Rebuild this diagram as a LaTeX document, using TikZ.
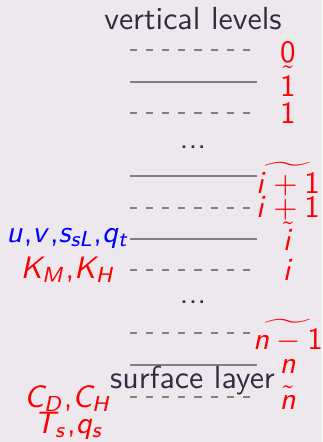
\documentclass[tikz,border=0pt]{standalone}
\usepackage{amsmath}
\usepackage{tikz}
\usepackage{xcolor}

% sans serif math as on the slide
\DeclareSymbolFont{sfup}{OT1}{cmss}{m}{n}
\DeclareSymbolFont{sfit}{OT1}{cmss}{m}{sl}
\DeclareMathSymbol{0}{\mathalpha}{sfup}{`0}
\DeclareMathSymbol{1}{\mathalpha}{sfup}{`1}
\DeclareMathSymbol{,}{\mathord}{sfup}{`,}
\DeclareMathSymbol{u}{\mathalpha}{sfit}{`u}
\DeclareMathSymbol{v}{\mathalpha}{sfit}{`v}
\DeclareMathSymbol{s}{\mathalpha}{sfit}{`s}
\DeclareMathSymbol{L}{\mathalpha}{sfit}{`L}
\DeclareMathSymbol{q}{\mathalpha}{sfit}{`q}
\DeclareMathSymbol{t}{\mathalpha}{sfit}{`t}
\DeclareMathSymbol{K}{\mathalpha}{sfit}{`K}
\DeclareMathSymbol{M}{\mathalpha}{sfit}{`M}
\DeclareMathSymbol{H}{\mathalpha}{sfit}{`H}
\DeclareMathSymbol{i}{\mathalpha}{sfit}{`i}
\DeclareMathSymbol{n}{\mathalpha}{sfit}{`n}
\DeclareMathSymbol{C}{\mathalpha}{sfit}{`C}
\DeclareMathSymbol{D}{\mathalpha}{sfit}{`D}
\DeclareMathSymbol{T}{\mathalpha}{sfit}{`T}

% tilde set a little higher
\newcommand{\hitilde}[2]{\tilde{\rule{0pt}{#1}#2}}

\definecolor{slidebg}{RGB}{237,231,238}
\definecolor{slidetext}{RGB}{46,46,64}
\definecolor{lvlgray}{RGB}{128,128,128}

\begin{document}
\begin{tikzpicture}[x=0.3226pt, y=-0.3226pt,
    every node/.style={font=\sffamily, text=slidetext, anchor=base, inner sep=0pt},
    txt/.style={font=\sffamily\fontsize{10.3}{12}\selectfont},
    full/.style={line width=0.9pt, draw=lvlgray},
    half/.style={full, dash pattern=on 2.3pt off 2.9pt},
    idx/.style={text=red},
    var/.style={text=blue}]
    \fill[slidebg] (0,0) rectangle (322,442);

    % full and half levels
    \foreach \y in {82,176,239,365}
        \draw[full] (130,\y) -- (257,\y);
    \foreach \y in {50,113,208,270,333,397}
        \draw[half] (130,\y) -- (250.5,\y);

    \node[txt] (title) at (193,29) {vertical levels};
    \node[txt] (dotsA) at (193,148) {...};
    \node[txt] (dotsB) at (193,303) {...};
    \node[txt] (sfc) at (192.5,388) {surface layer};

    % level indices
    \node[idx] (k0) at (288,62) {$0$};
    \node[idx] (kt1) at (288,96) {$\hitilde{7.4pt}{1}$};
    \node[idx] (k1) at (288,123) {$1$};
    \node[idx] (ktip) at (288,193) {$\widetilde{i+1}$};
    \node[idx] (kip) at (288,217) {$i+1$};
    \node[idx] (kti) at (288,250) {$\hitilde{6.6pt}{i}$};
    \node[idx] (ki) at (288,280) {$i$};
    \node[idx] (ktnm) at (288,349) {$\widetilde{n-1}$};
    \node[idx] (kn) at (288,373) {$n$};
    \node[idx] (ktn) at (288,409) {$\hitilde{5pt}{n}$};

    % variables
    \node[var] (prog) at (68,242) {$u,v,s_{sL},q_t$};
    \node[idx] (diff) at (68,278) {$K_M,K_H$};
    \node[idx] (coef) at (68,407) {$C_D,C_H$};
    \node[idx] (sfcv) at (69,433) {$T_s,q_s$};
\end{tikzpicture}
\end{document}
